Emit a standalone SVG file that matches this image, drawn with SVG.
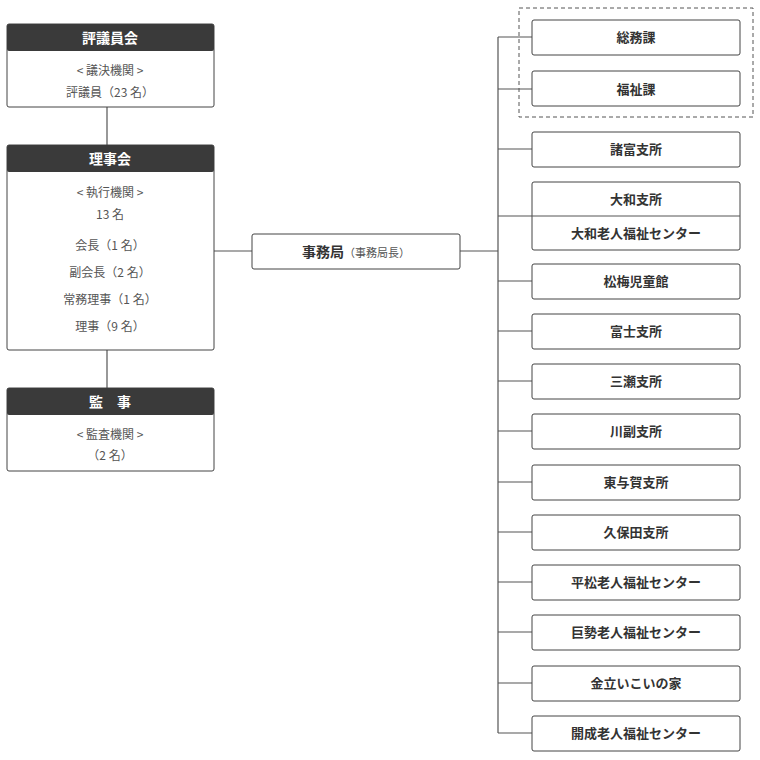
<svg xmlns="http://www.w3.org/2000/svg" width="760" height="760" viewBox="0 0 760 760">
<style>
text{font-family:"Noto Sans CJK JP","Noto Sans",sans-serif;text-anchor:middle}
.b{fill:#fff;stroke:#444;stroke-width:1}
.h{fill:#3a3a3a}
.ht{fill:#fff;font-size:14px;font-weight:bold}
.t{fill:#555;font-size:12px}
.r{fill:#333;font-size:13px;font-weight:bold}
.c{stroke:#555;stroke-width:1.2;fill:none}
</style>
<rect width="760" height="760" fill="#fff"/>
<g id="connectors">
<path class="c" d="M107 107V145M107 350V388M214 251H252M460 251H498M498 37V733"/>
<path class="c" d="M498 37H532M498 89H532M498 149H532M498 216H532M498 281H532M498 331H532M498 381H532M498 431H532M498 482H532M498 532H532M498 582H532M498 632H532M498 683H532M498 733H532"/>
</g>
<rect x="519" y="8" width="234" height="109" fill="none" stroke="#555" stroke-dasharray="4,3"/>
<g id="hyogiinkai"><rect class="b" x="7" y="24" width="207" height="83" rx="2"/><rect class="h" x="7" y="24" width="207" height="27" rx="2"/><text class="ht" x="110" y="43">評議員会</text><text class="t" x="110" y="75">&lt; 議決機関 &gt;</text><text class="t" x="110" y="97">評議員（23 名）</text></g>
<g id="rijikai"><rect class="b" x="7" y="145" width="207" height="205" rx="2"/><rect class="h" x="7" y="145" width="207" height="27" rx="2"/><text class="ht" x="110" y="164">理事会</text><text class="t" x="110" y="197">&lt; 執行機関 &gt;</text><text class="t" x="110" y="219">13 名</text><text class="t" x="110" y="250">会長（1 名）</text><text class="t" x="110" y="277">副会長（2 名）</text><text class="t" x="110" y="304">常務理事（1 名）</text><text class="t" x="110" y="331">理事（9 名）</text></g>
<g id="kanji"><rect class="b" x="7" y="388" width="207" height="83" rx="2"/><rect class="h" x="7" y="388" width="207" height="27" rx="2"/><text class="ht" x="110" y="407">監　事</text><text class="t" x="110" y="439">&lt; 監査機関 &gt;</text><text class="t" x="110" y="460">（2 名）</text></g>
<g id="jimukyoku"><rect class="b" x="252" y="234" width="208" height="35" rx="2"/><text x="356" y="257"><tspan class="r" style="font-size:14px">事務局</tspan><tspan class="t" style="font-size:11px">（事務局長）</tspan></text></g>
<g id="somu"><rect class="b" x="532" y="20" width="208" height="35" rx="2"/><text class="r" x="636" y="42">総務課</text></g>
<g id="fukushi"><rect class="b" x="532" y="71" width="208" height="35" rx="2"/><text class="r" x="636" y="94">福祉課</text></g>
<g id="morodomi"><rect class="b" x="532" y="132" width="208" height="35" rx="2"/><text class="r" x="636" y="154">諸富支所</text></g>
<g id="yamato"><rect class="b" x="532" y="182" width="208" height="68" rx="2"/><line x1="532" y1="216" x2="740" y2="216" stroke="#555"/><text class="r" x="636" y="204">大和支所</text><text class="r" x="636" y="238">大和老人福祉センター</text></g>
<g id="shobai"><rect class="b" x="532" y="264" width="208" height="35" rx="2"/><text class="r" x="636" y="286">松梅児童館</text></g>
<g id="fuji"><rect class="b" x="532" y="314" width="208" height="35" rx="2"/><text class="r" x="636" y="336">富士支所</text></g>
<g id="mitsuse"><rect class="b" x="532" y="364" width="208" height="35" rx="2"/><text class="r" x="636" y="386">三瀬支所</text></g>
<g id="kawasoe"><rect class="b" x="532" y="414" width="208" height="35" rx="2"/><text class="r" x="636" y="436">川副支所</text></g>
<g id="higashiyoka"><rect class="b" x="532" y="465" width="208" height="35" rx="2"/><text class="r" x="636" y="487">東与賀支所</text></g>
<g id="kubota"><rect class="b" x="532" y="515" width="208" height="35" rx="2"/><text class="r" x="636" y="537">久保田支所</text></g>
<g id="hiramatsu"><rect class="b" x="532" y="565" width="208" height="35" rx="2"/><text class="r" x="636" y="587">平松老人福祉センター</text></g>
<g id="kose"><rect class="b" x="532" y="615" width="208" height="35" rx="2"/><text class="r" x="636" y="637">巨勢老人福祉センター</text></g>
<g id="kinryu"><rect class="b" x="532" y="666" width="208" height="35" rx="2"/><text class="r" x="636" y="688">金立いこいの家</text></g>
<g id="kaisei"><rect class="b" x="532" y="716" width="208" height="35" rx="2"/><text class="r" x="636" y="738">開成老人福祉センター</text></g>
</svg>
